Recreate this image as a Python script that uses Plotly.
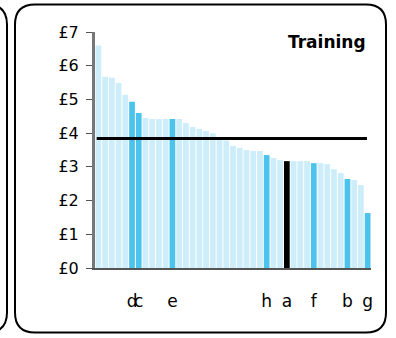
import plotly.graph_objects as go

# ---- data ----
values = [6.60, 5.67, 5.64, 5.49, 5.14, 4.93, 4.60, 4.45, 4.42, 4.42,
          4.42, 4.42, 4.42, 4.30, 4.18, 4.12, 4.06, 4.00, 3.88, 3.78,
          3.62, 3.56, 3.50, 3.47, 3.47, 3.35, 3.26, 3.20, 3.17, 3.17,
          3.17, 3.17, 3.11, 3.11, 3.08, 2.93, 2.82, 2.64, 2.61, 2.46,
          1.63]
highlight_idx = [5, 6, 11, 25, 28, 32, 37, 40]
highlight_labels = ["d", "c", "e", "h", "a", "f", "b", "g"]
selected_label = "a"
average_value = 3.84
y_tick_vals = [0, 1, 2, 3, 4, 5, 6, 7]
y_tick_text = ["£0", "£1", "£2", "£3", "£4", "£5", "£6", "£7"]
title_text = "Training"

# ---- styling ----
LIGHT = "#CCEDF9"
DARK = "#4BC3EC"
BLACK = "#000000"
FONT = "DejaVu Sans, Verdana, sans-serif"

x = list(range(len(values)))
lab_of = dict(zip(highlight_idx, highlight_labels))
colors = []
for i in x:
    if i in lab_of:
        colors.append(BLACK if lab_of[i] == selected_label else DARK)
    else:
        colors.append(LIGHT)

W, H = 396, 338
L, R, T, B = 95, 371, 32, 268  # plot area in pixels

def px(xp):
    return (xp - L) / (R - L)

def py(yp):
    return 1 - (yp - T) / (B - T)

def rounded_rect(x0, y0, x1, y1, r):
    pts = []
    pts.append(f"M {px(x0 + r)},{py(y0)}")
    pts.append(f"L {px(x1 - r)},{py(y0)}")
    pts.append(f"Q {px(x1)},{py(y0)} {px(x1)},{py(y0 + r)}")
    pts.append(f"L {px(x1)},{py(y1 - r)}")
    pts.append(f"Q {px(x1)},{py(y1)} {px(x1 - r)},{py(y1)}")
    pts.append(f"L {px(x0 + r)},{py(y1)}")
    pts.append(f"Q {px(x0)},{py(y1)} {px(x0)},{py(y1 - r)}")
    pts.append(f"L {px(x0)},{py(y0 + r)}")
    pts.append(f"Q {px(x0)},{py(y0)} {px(x0 + r)},{py(y0)}")
    pts.append("Z")
    return " ".join(pts)

fig = go.Figure()
fig.add_trace(go.Bar(
    x=x, y=values,
    marker=dict(color=colors, line=dict(width=0)),
    hoverinfo="skip",
))

fig.add_shape(type="line", xref="x", yref="y",
              x0=-0.25, x1=39.9, y0=average_value, y1=average_value,
              line=dict(color="black", width=3), layer="above")

fig.add_shape(type="path", xref="paper", yref="paper",
              path=rounded_rect(15, 4.5, 386, 332.5, 20),
              line=dict(color="black", width=2), fillcolor="rgba(0,0,0,0)")
fig.add_shape(type="path", xref="paper", yref="paper",
              path=rounded_rect(-300, 4.5, 7, 332.5, 20),
              line=dict(color="black", width=2), fillcolor="rgba(0,0,0,0)")

fig.add_annotation(text=f"<b>{title_text}</b>", xref="paper", yref="paper",
                   x=px(368), y=py(42), xanchor="right", yanchor="middle",
                   showarrow=False,
                   font=dict(family=FONT, size=17, color="black"))

fig.update_layout(
    width=W, height=H,
    margin=dict(l=L, r=W - R, t=T, b=H - B, pad=0),
    paper_bgcolor="white", plot_bgcolor="white",
    showlegend=False,
    bargap=0.15,
    font=dict(family=FONT, color="black"),
)
fig.update_xaxes(
    range=[-0.5, len(values) - 0.5],
    tickmode="array", tickvals=highlight_idx, ticktext=highlight_labels,
    tickangle=0, ticks="", ticklabelstandoff=17,
    tickfont=dict(family=FONT, size=17, color="black"),
    showgrid=False, zeroline=False,
    showline=True, linecolor="#555555", linewidth=2,
)
fig.update_yaxes(
    range=[0, 7],
    tickmode="array", tickvals=y_tick_vals, ticktext=y_tick_text,
    ticks="outside", ticklen=6, tickcolor="#555555", tickwidth=1,
    tickfont=dict(family=FONT, size=16, color="black"), ticklabelstandoff=4,
    showgrid=False, zeroline=False,
    showline=True, linecolor="#777777", linewidth=3,
)

fig.write_html("out.html", config={"displayModeBar": False},
               post_script="document.body.style.margin='0';")
